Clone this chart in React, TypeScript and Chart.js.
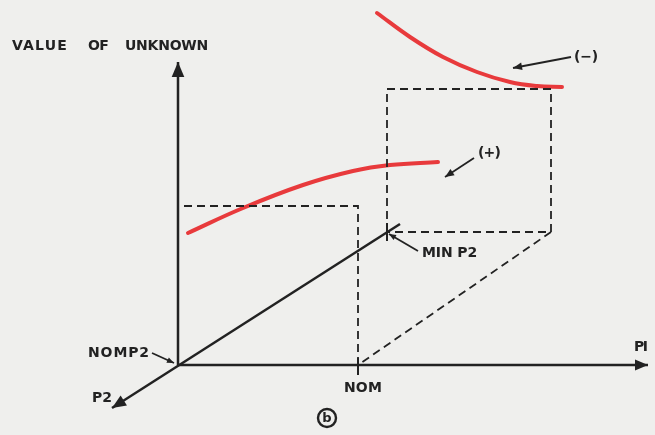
import React, { useEffect, useRef } from "react";
import { Chart, registerables } from "chart.js";
Chart.register(...registerables);

type P = { x: number; y: number };

// Diagram coordinates: origin at the axes' intersection (NOM P2), x = P1, y = value of unknown
const plusCurve: P[] = [
  { x: 10, y: 132 }, { x: 65, y: 157 }, { x: 125, y: 180 }, { x: 175, y: 194 }, { x: 212, y: 200 }, { x: 260, y: 203 },
];
const minusCurve: P[] = [
  { x: 199, y: 352 }, { x: 232, y: 328 }, { x: 265, y: 308 }, { x: 299, y: 293 }, { x: 332, y: 283 }, { x: 359, y: 279 }, { x: 384, y: 278 },
];
const yAxis: P[] = [{ x: 0, y: 0 }, { x: 0, y: 303 }];
const xAxis: P[] = [{ x: 0, y: 0 }, { x: 470, y: 0 }];
const p2Axis: P[] = [{ x: 222, y: 141 }, { x: -66, y: -43 }];
const nomTick: P[] = [{ x: 180, y: 7 }, { x: 180, y: -10 }];
const minTick: P[] = [{ x: 209, y: 142 }, { x: 209, y: 124 }];
const nomBox: P[] = [{ x: 180, y: 0 }, { x: 180, y: 159 }, { x: 0, y: 159 }];
const minBox: P[] = [{ x: 209, y: 133 }, { x: 209, y: 276 }, { x: 373, y: 276 }, { x: 373, y: 133 }, { x: 209, y: 133 }];
const diagonal: P[] = [{ x: 373, y: 133 }, { x: 180, y: 0 }];
const minLeader: P[] = [{ x: 240, y: 114 }, { x: 211, y: 131 }];
const nomP2Leader: P[] = [{ x: -26, y: 12 }, { x: -4, y: 2 }];
const plusLeader: P[] = [{ x: 296, y: 207 }, { x: 267, y: 188 }];
const minusLeader: P[] = [{ x: 393, y: 308 }, { x: 335, y: 297 }];

const labels = [
  { text: "VALUE", x: -166, y: 319, w: 56 },
  { text: "OF", x: -90, y: 319, w: 20 },
  { text: "UNKNOWN", x: -53, y: 319, w: 83 },
  { text: "(−)", x: 396, y: 308, w: 24 },
  { text: "(+)", x: 300, y: 212, w: 22 },
  { text: "NOMP2", x: -90, y: 12, w: 62 },
  { text: "P2", x: -86, y: -33, w: 20 },
  { text: "MIN P2", x: 244, y: 112, w: 55 },
  { text: "NOM", x: 166, y: -23, w: 38 },
  { text: "PI", x: 456, y: 18, w: 11 },
];
const circleLabel = { text: "b", x: 149, y: -53, r: 9 };

const INK = "#222222";
const RED = "#e83a3c";

export default function App() {
  const ref = useRef<HTMLCanvasElement | null>(null);
  useEffect(() => {
    if (!ref.current) return;
    const solid = (data: P[], width: number, arrow: number | null) => ({
      data, showLine: true, borderColor: INK, borderWidth: width, pointRadius: 0, tension: 0,
      arrow, borderCapStyle: "butt",
    });
    const dashed = (data: P[]) => ({
      data, showLine: true, borderColor: INK, borderWidth: 1.8, pointRadius: 0, tension: 0,
      borderDash: [8, 5], arrow: null,
    });
    const curve = (data: P[]) => ({
      data, showLine: true, borderColor: RED, borderWidth: 4, pointRadius: 0,
      tension: 0.4, arrow: null, borderCapStyle: "round",
    });
    const bgPlugin = {
      id: "bg",
      beforeDraw(c: any) {
        const ctx = c.ctx;
        ctx.save();
        ctx.fillStyle = "#efefed";
        ctx.fillRect(0, 0, c.width, c.height);
        ctx.restore();
      },
    };
    const arrowPlugin = {
      id: "arrows",
      afterDatasetsDraw(c: any) {
        const ctx = c.ctx;
        c.data.datasets.forEach((ds: any, i: number) => {
          if (!ds.arrow) return;
          const pts = c.getDatasetMeta(i).data;
          const a = pts[pts.length - 2], b = pts[pts.length - 1];
          const ang = Math.atan2(b.y - a.y, b.x - a.x);
          const len = ds.arrow, half = ds.arrow * 0.42;
          ctx.save();
          ctx.fillStyle = INK;
          ctx.beginPath();
          ctx.moveTo(b.x, b.y);
          ctx.lineTo(b.x - len * Math.cos(ang) + half * Math.sin(ang), b.y - len * Math.sin(ang) - half * Math.cos(ang));
          ctx.lineTo(b.x - len * Math.cos(ang) - half * Math.sin(ang), b.y - len * Math.sin(ang) + half * Math.cos(ang));
          ctx.closePath();
          ctx.fill();
          ctx.restore();
        });
      },
    };
    const textPlugin = {
      id: "texts",
      afterDraw(c: any) {
        const ctx = c.ctx;
        const sx = c.scales.x, sy = c.scales.y;
        ctx.save();
        ctx.fillStyle = INK;
        ctx.textBaseline = "middle";
        ctx.font = "bold 14px 'DejaVu Sans'";
        labels.forEach((l) => {
          (ctx as any).letterSpacing = "0px";
          const w = ctx.measureText(l.text).width;
          const n = l.text.length;
          const sp = n > 1 ? Math.max(-1.5, (l.w - w) / n) : 0;
          (ctx as any).letterSpacing = sp + "px";
          ctx.textAlign = "left";
          ctx.fillText(l.text, sx.getPixelForValue(l.x), sy.getPixelForValue(l.y));
        });
        (ctx as any).letterSpacing = "0px";
        const cx = sx.getPixelForValue(circleLabel.x), cy = sy.getPixelForValue(circleLabel.y);
        ctx.strokeStyle = INK;
        ctx.lineWidth = 2.4;
        ctx.beginPath();
        ctx.arc(cx, cy, circleLabel.r, 0, Math.PI * 2);
        ctx.stroke();
        ctx.textAlign = "center";
        ctx.font = "bold 13px 'DejaVu Sans'";
        ctx.fillText(circleLabel.text, cx, cy + 1);
        ctx.restore();
      },
    };
    const chart = new Chart(ref.current, {
      type: "scatter",
      data: {
        datasets: [
          dashed(nomBox), dashed(minBox), dashed(diagonal),
          solid(yAxis, 2.5, 15), solid(xAxis, 2.5, 13), solid(p2Axis, 2.5, 14),
          solid(nomTick, 2, null), solid(minTick, 2, null),
          solid(minLeader, 1.8, 7), solid(nomP2Leader, 1.8, 7),
          solid(plusLeader, 1.8, 9), solid(minusLeader, 1.8, 9),
          curve(plusCurve), curve(minusCurve),
        ] as any,
      },
      options: {
        animation: false,
        responsive: false,
        devicePixelRatio: 1,
        layout: { padding: 0 },
        plugins: { legend: { display: false }, tooltip: { enabled: false } },
        scales: {
          x: { type: "linear", min: -178, max: 477, display: false },
          y: { type: "linear", min: -70, max: 365, display: false },
        },
      } as any,
      plugins: [bgPlugin, arrowPlugin, textPlugin],
    });
    return () => chart.destroy();
  }, []);
  return (
    <div style={{ position: "absolute", left: 0, top: 0, width: 655, height: 435 }}>
      <canvas ref={ref} width={655} height={435} />
    </div>
  );
}
